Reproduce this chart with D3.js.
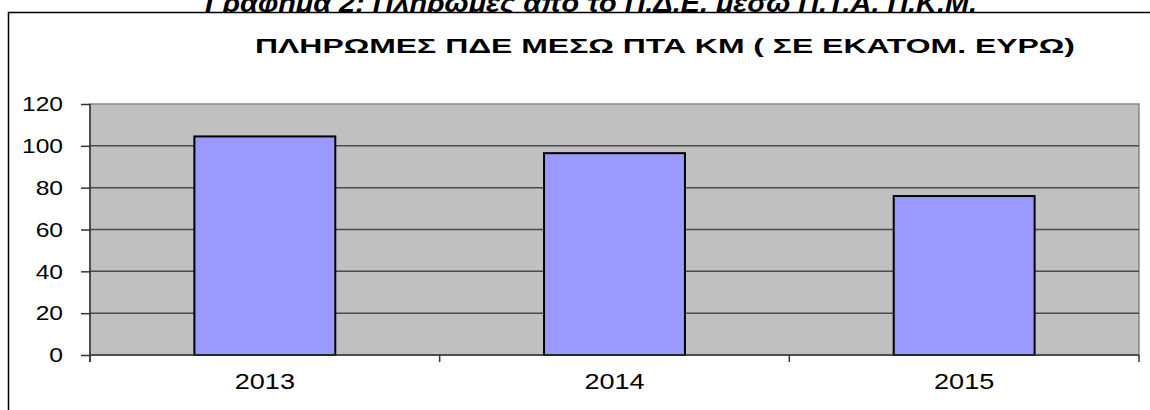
<!DOCTYPE html>
<html>
<head>
<meta charset="utf-8">
<script src="https://cdn.jsdelivr.net/npm/d3@7"></script>
<style>
  body { margin: 0; background: #ffffff; }
  svg { display: block; font-family: "Liberation Sans", Arial, sans-serif; }
</style>
</head>
<body>
<div id="chart"></div>
<script>
// data
const years = ['2013', '2014', '2015'];
const payments = [104.5, 96.5, 76];
const yTicks = [0, 20, 40, 60, 80, 100, 120];

const caption = 'Γράφημα 2: Πληρωμές από το Π.Δ.Ε. μέσω Π.Τ.Α. Π.Κ.Μ.';
const chartTitle = 'ΠΛΗΡΩΜΕΣ ΠΔΕ ΜΕΣΩ ΠΤΑ ΚΜ ( ΣΕ ΕΚΑΤΟΜ. ΕΥΡΩ)';

// the original chart is stretched sideways, text too
const SX = 1.23;

const W = 1150, H = 410;
const plot = { left: 90, top: 104, right: 1139, bottom: 355 };

const svg = d3.select('#chart')
  .append('svg')
  .attr('width', W)
  .attr('height', H);

// stretched text helper
function label(g, x, y, txt, size, anchor, weight) {
  return g.append('text')
    .attr('transform', `translate(${x},${y}) scale(${SX},1)`)
    .attr('text-anchor', anchor)
    .style('font-size', size + 'px')
    .style('font-weight', weight || 'normal')
    .style('fill', '#000')
    .text(txt);
}

// document caption (mostly cut off at the top)
svg.append('text')
  .attr('x', 591)
  .attr('y', 12)
  .attr('text-anchor', 'middle')
  .attr('textLength', 772)
  .attr('lengthAdjust', 'spacingAndGlyphs')
  .style('font-size', '25px')
  .style('font-weight', 'bold')
  .style('font-style', 'italic')
  .text(caption);

// chart frame, covers the caption descenders
svg.append('rect')
  .attr('x', 8.5)
  .attr('y', 12.5)
  .attr('width', 1200)
  .attr('height', 500)
  .style('fill', '#ffffff')
  .style('stroke', '#000')
  .style('stroke-width', 1.5);

// chart title
svg.append('text')
  .attr('x', 665)
  .attr('y', 53)
  .attr('text-anchor', 'middle')
  .attr('textLength', 820)
  .attr('lengthAdjust', 'spacingAndGlyphs')
  .style('font-size', '21px')
  .style('font-weight', 'bold')
  .text(chartTitle);

// scales
const x = d3.scaleBand()
  .domain(years)
  .range([plot.left, plot.right])
  .padding(0);

const y = d3.scaleLinear()
  .domain([0, 120])
  .range([plot.bottom, plot.top]);

// plot background
svg.append('rect')
  .attr('x', plot.left)
  .attr('y', plot.top)
  .attr('width', plot.right - plot.left)
  .attr('height', plot.bottom - plot.top)
  .style('fill', '#c0c0c0')
  .style('stroke', '#888888')
  .style('stroke-width', 1.5);

// gridlines
svg.append('g')
  .selectAll('line')
  .data(yTicks.filter(d => d > 0 && d < 120))
  .enter()
  .append('line')
  .attr('x1', plot.left)
  .attr('x2', plot.right)
  .attr('y1', d => y(d))
  .attr('y2', d => y(d))
  .style('stroke', '#4a4a4a')
  .style('stroke-width', 1.5);

// bars
const barW = x.bandwidth() * 0.403;
svg.append('g')
  .selectAll('rect')
  .data(years)
  .enter()
  .append('rect')
  .attr('x', d => x(d) + x.bandwidth() / 2 - barW / 2)
  .attr('y', (d, i) => y(payments[i]))
  .attr('width', barW)
  .attr('height', (d, i) => y(0) - y(payments[i]))
  .style('fill', '#9999ff')
  .style('stroke', '#000')
  .style('stroke-width', 2);

// y axis
const yAxis = svg.append('g')
  .attr('transform', `translate(${plot.left},0)`)
  .call(d3.axisLeft(y).tickValues(yTicks).tickSize(9).tickPadding(0).tickFormat(''));
yAxis.select('.domain').remove();
yAxis.selectAll('line').style('stroke', '#333').style('stroke-width', 1.5);
svg.append('line')
  .attr('x1', plot.left).attr('x2', plot.left)
  .attr('y1', plot.top).attr('y2', plot.bottom + 7)
  .style('stroke', '#333').style('stroke-width', 1.5);

yTicks.forEach(t => label(svg, 63, y(t) + 7.2, String(t), 20, 'end'));

// x axis, ticks sit between the categories
svg.append('line')
  .attr('x1', plot.left).attr('x2', plot.right)
  .attr('y1', plot.bottom).attr('y2', plot.bottom)
  .style('stroke', '#333').style('stroke-width', 1.5);

const bounds = years.map(d => x(d)).concat([x(years[years.length - 1]) + x.bandwidth()]);
svg.append('g')
  .selectAll('line')
  .data(bounds)
  .enter()
  .append('line')
  .attr('x1', d => d).attr('x2', d => d)
  .attr('y1', plot.bottom).attr('y2', plot.bottom + 7)
  .style('stroke', '#333').style('stroke-width', 1.5);

years.forEach(d => label(svg, x(d) + x.bandwidth() / 2, 389, d, 22, 'middle'));
</script>
</body>
</html>
